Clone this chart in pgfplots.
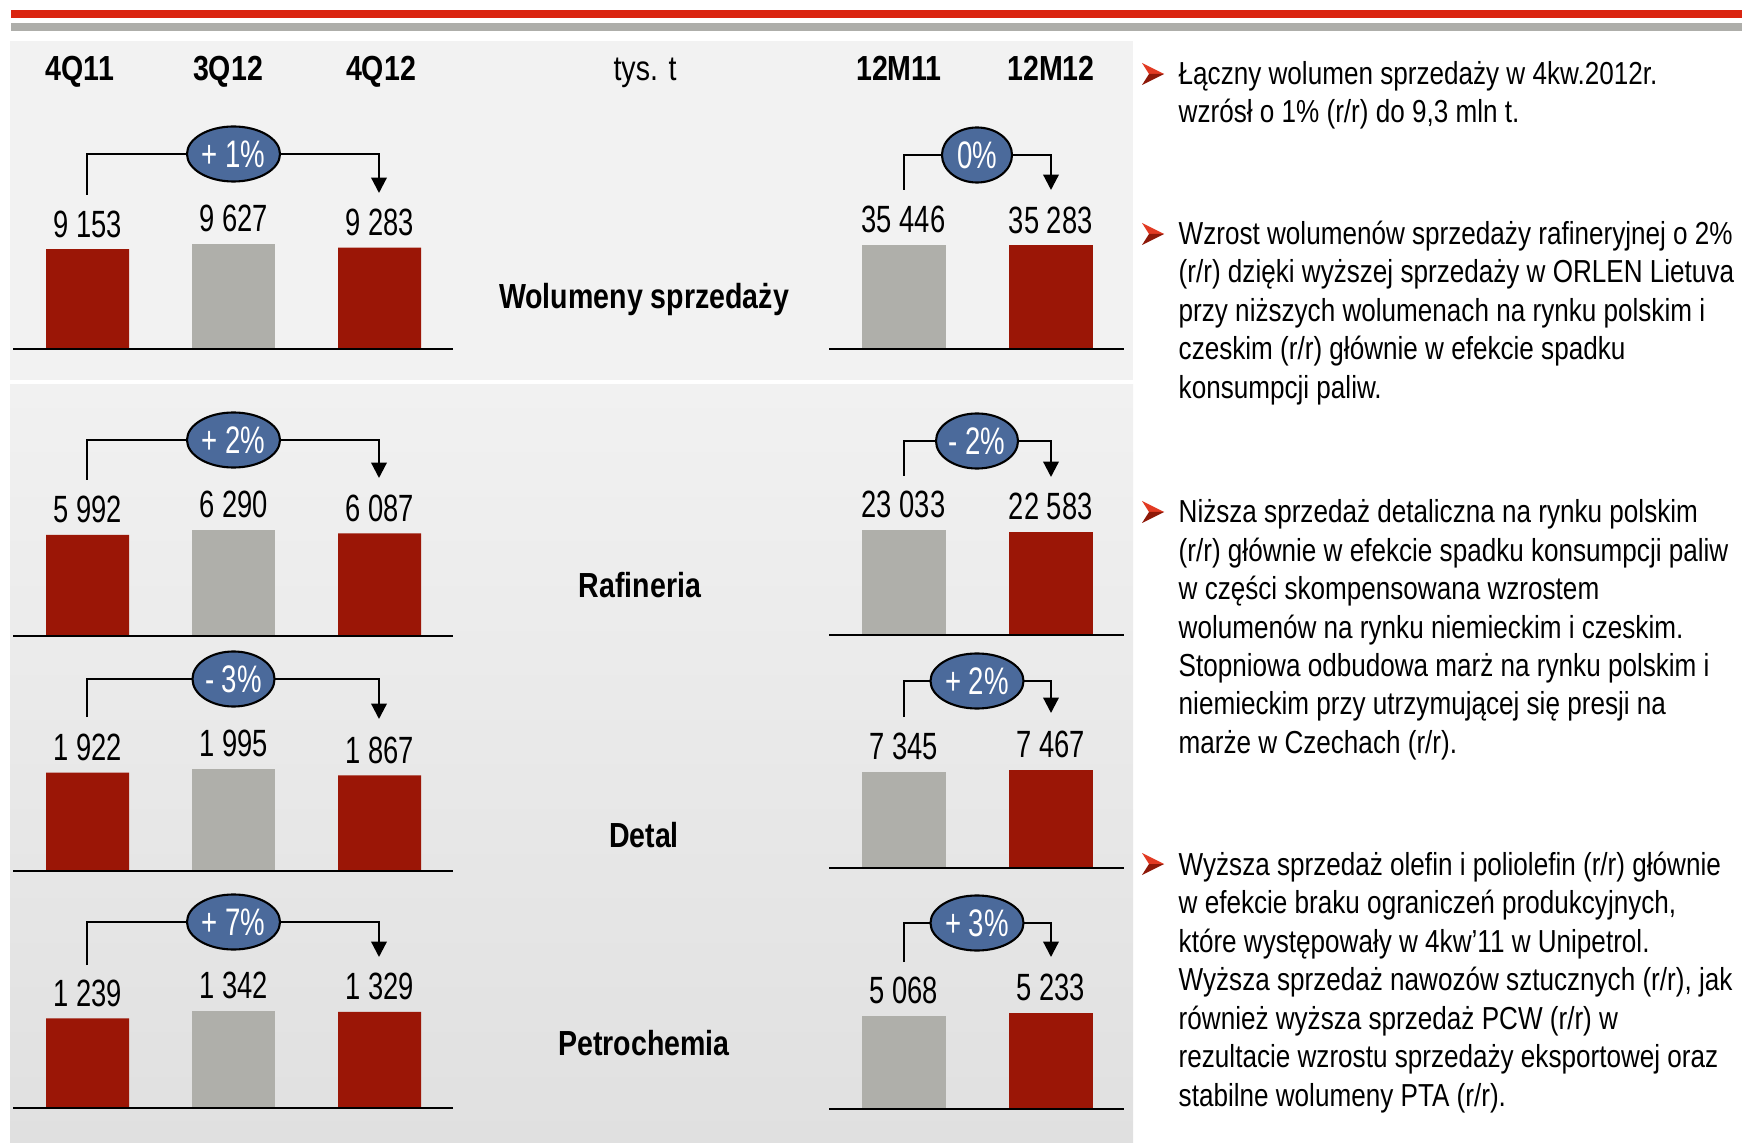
\documentclass[border=0pt]{standalone}
\usepackage{fontspec}
\setmainfont{Liberation Sans}[FakeStretch=0.82]
\newfontfamily\narrowfam{Liberation Sans}[FakeStretch=0.72]
\usepackage{pgfplots}
\pgfplotsset{compat=1.18}
\usetikzlibrary{arrows.meta,shapes.geometric}

\definecolor{barred}{HTML}{9B1606}
\definecolor{bargray}{HTML}{AFAFAA}
\definecolor{ellblue}{HTML}{4B6A9B}
\definecolor{topred}{HTML}{DA2510}
\definecolor{topgray}{HTML}{AEAEAA}
\definecolor{panelA}{HTML}{F2F2F2}
\definecolor{panelB}{HTML}{F1F1F1}
\definecolor{panelC}{HTML}{E0E0E0}
\definecolor{bulhi}{HTML}{E23A22}
\definecolor{bullo}{HTML}{8E1808}

\newcommand{\numfont}{\narrowfam\fontsize{10.8}{12}\selectfont}
\newcommand{\headfont}{\fontsize{9.9}{11}\selectfont\bfseries}
\newcommand{\elfont}{\narrowfam\fontsize{10.9}{12}\selectfont}
\newcommand{\bodyfont}{\fontsize{9.05}{10}\selectfont}

\pgfplotsset{
  volbase/.style={
    scale only axis, anchor=south west, clip=false,
    axis line style={draw=none}, xtick=\empty, ytick=\empty,
    ymin=0, ybar, bar width=0.83cm,
    nodes near coords, point meta=explicit symbolic,
    every node near coord/.append style={font=\numfont, anchor=south,
      inner sep=0pt, yshift=0.11cm},
    extra description/.code={\draw[line width=0.7pt] (0,0) -- (1,0);},
  },
  lchart/.style={volbase, width=4.40cm, xmin=0.4897, xmax=3.5034},
  rchart/.style={volbase, width=2.95cm, xmin=0.4932, xmax=2.5, bar width=0.84cm},
}

% bracket with growth badge: xL, ybottom, yline, xR, ytip, xEllipse, ellipse width, text
\newcommand{\bracket}[8]{%
  \draw[line width=0.65pt, -{Triangle[width=4.4pt,length=4.4pt]}]
    (#1,-#2) -- (#1,-#3) -- (#4,-#3) -- (#4,-#5);
  \node[ellipse, draw=black, line width=0.6pt, fill=ellblue, text=white,
    minimum width=#7, minimum height=0.55cm, inner sep=0pt, font=\elfont]
    at (#6,-#3) {#8};}
\newcommand{\bul}[1]{%
  \fill[bulhi] (1142,-#1+11) -- (1164,-#1) -- (1149,-#1) -- cycle;
  \fill[bullo] (1142,-#1-11) -- (1164,-#1) -- (1149,-#1) -- cycle;}
\newcommand{\bline}[2]{\node[anchor=base west, font=\bodyfont, inner sep=0pt] at (1178,-#1) {#2};}

\begin{document}
\begin{tikzpicture}[x=0.01cm, y=0.01cm]
\useasboundingbox (0,0) rectangle (1742,-1143);
\fill[white] (0,0) rectangle (1742,-1143);
\fill[topred] (11,-10) rectangle (1742,-18);
\fill[topgray] (11,-23) rectangle (1742,-31);
\fill[panelA] (10,-41) rectangle (1133,-380);
\shade[top color=panelB, bottom color=panelC] (10,-385) rectangle (1133,-1143);

% axis anchors (lower left corner of each chart)
\coordinate (WL) at (13,-349);  \coordinate (WR) at (829,-349);
\coordinate (RL) at (13,-636);  \coordinate (RR) at (829,-635);
\coordinate (DL) at (13,-871);  \coordinate (DR) at (829,-868);
\coordinate (PL) at (13,-1108); \coordinate (PR) at (829,-1109);

% column headings
\foreach \x/\t in {80/4Q11, 228/3Q12, 381/4Q12, 899/12M11, 1051/12M12}
  \node[anchor=base, font=\headfont, inner sep=0pt] at (\x,-80.5) {\t};
\node[anchor=base, font=\fontsize{9.9}{11}\selectfont, inner sep=0pt] at (645,-81) {tys. t};

% section titles
\node[anchor=base, font=\headfont, inner sep=0pt] at (644,-309) {Wolumeny sprzedaży};
\node[anchor=base, font=\headfont, inner sep=0pt] at (640,-597) {Rafineria};
\node[anchor=base, font=\headfont, inner sep=0pt] at (644,-847) {Detal};
\node[anchor=base, font=\headfont, inner sep=0pt] at (644,-1055) {Petrochemia};

% Wolumeny sprzedazy
\begin{axis}[lchart, at={(WL)}, height=1.05cm, ymax=9627]
\addplot[fill=barred, draw=none, bar shift=0pt] coordinates {(1,9153) [9~153] (3,9283) [9~283]};
\addplot[fill=bargray, draw=none, bar shift=0pt] coordinates {(2,9627) [9~627]};
\end{axis}
\begin{axis}[rchart, at={(WR)}, height=1.04cm, ymax=35446]
\addplot[fill=bargray, draw=none, bar shift=0pt] coordinates {(1,35446) [35~446]};
\addplot[fill=barred, draw=none, bar shift=0pt] coordinates {(2,35283) [35~283]};
\end{axis}

% Rafineria
\begin{axis}[lchart, at={(RL)}, height=1.06cm, ymax=6290]
\addplot[fill=barred, draw=none, bar shift=0pt] coordinates {(1,5992) [5~992] (3,6087) [6~087]};
\addplot[fill=bargray, draw=none, bar shift=0pt] coordinates {(2,6290) [6~290]};
\end{axis}
\begin{axis}[rchart, at={(RR)}, height=1.05cm, ymax=23033]
\addplot[fill=bargray, draw=none, bar shift=0pt] coordinates {(1,23033) [23~033]};
\addplot[fill=barred, draw=none, bar shift=0pt] coordinates {(2,22583) [22~583]};
\end{axis}

% Detal
\begin{axis}[lchart, at={(DL)}, height=1.02cm, ymax=1995]
\addplot[fill=barred, draw=none, bar shift=0pt] coordinates {(1,1922) [1~922] (3,1867) [1~867]};
\addplot[fill=bargray, draw=none, bar shift=0pt] coordinates {(2,1995) [1~995]};
\end{axis}
\begin{axis}[rchart, at={(DR)}, height=0.98cm, ymax=7467]
\addplot[fill=bargray, draw=none, bar shift=0pt] coordinates {(1,7345) [7~345]};
\addplot[fill=barred, draw=none, bar shift=0pt] coordinates {(2,7467) [7~467]};
\end{axis}

% Petrochemia
\begin{axis}[lchart, at={(PL)}, height=0.97cm, ymax=1342]
\addplot[fill=barred, draw=none, bar shift=0pt] coordinates {(1,1239) [1~239] (3,1329) [1~329]};
\addplot[fill=bargray, draw=none, bar shift=0pt] coordinates {(2,1342) [1~342]};
\end{axis}
\begin{axis}[rchart, at={(PR)}, height=0.96cm, ymax=5233]
\addplot[fill=bargray, draw=none, bar shift=0pt] coordinates {(1,5068) [5~068]};
\addplot[fill=barred, draw=none, bar shift=0pt] coordinates {(2,5233) [5~233]};
\end{axis}

% growth brackets
\bracket{87}{195}{154}{379}{193}{233.5}{0.93cm}{+ 1\%}
\bracket{87}{480}{440}{379}{478}{233.5}{0.93cm}{+ 2\%}
\bracket{87}{717}{679}{379}{719}{233.5}{0.82cm}{- 3\%}
\bracket{87}{965}{922}{379}{957}{233.5}{0.93cm}{+ 7\%}
\bracket{904}{190}{155}{1051}{190}{977}{0.70cm}{0\%}
\bracket{904}{476}{441}{1051}{477}{977}{0.82cm}{- 2\%}
\bracket{904}{717}{681}{1051}{713}{977}{0.93cm}{+ 2\%}
\bracket{904}{962}{923}{1051}{957}{977}{0.93cm}{+ 3\%}

% commentary
\bul{74}
\bline{84.5}{Łączny wolumen sprzedaży w 4kw.2012r.}
\bline{123}{wzrósł o 1\% (r/r) do 9,3 mln t.}
\bul{234}
\bline{244.5}{Wzrost wolumenów sprzedaży rafineryjnej o 2\%}
\bline{283}{(r/r) dzięki wyższej sprzedaży w ORLEN Lietuva}
\bline{321.5}{przy niższych wolumenach na rynku polskim i}
\bline{360}{czeskim (r/r) głównie w efekcie spadku}
\bline{398.5}{konsumpcji paliw.}
\bul{512}
\bline{522.5}{Niższa sprzedaż detaliczna na rynku polskim}
\bline{561}{(r/r) głównie w efekcie spadku konsumpcji paliw}
\bline{599.5}{w części skompensowana wzrostem}
\bline{638}{wolumenów na rynku niemieckim i czeskim.}
\bline{676.5}{Stopniowa odbudowa marż na rynku polskim i}
\bline{715}{niemieckim przy utrzymującej się presji na}
\bline{753.5}{marże w Czechach (r/r).}
\bul{864}
\bline{875}{Wyższa sprzedaż olefin i poliolefin (r/r) głównie}
\bline{913.5}{w efekcie braku ograniczeń produkcyjnych,}
\bline{952}{które występowały w 4kw’11 w Unipetrol.}
\bline{990.5}{Wyższa sprzedaż nawozów sztucznych (r/r), jak}
\bline{1029}{również wyższa sprzedaż PCW (r/r) w}
\bline{1067.5}{rezultacie wzrostu sprzedaży eksportowej oraz}
\bline{1106}{stabilne wolumeny PTA (r/r).}
\end{tikzpicture}
\end{document}
